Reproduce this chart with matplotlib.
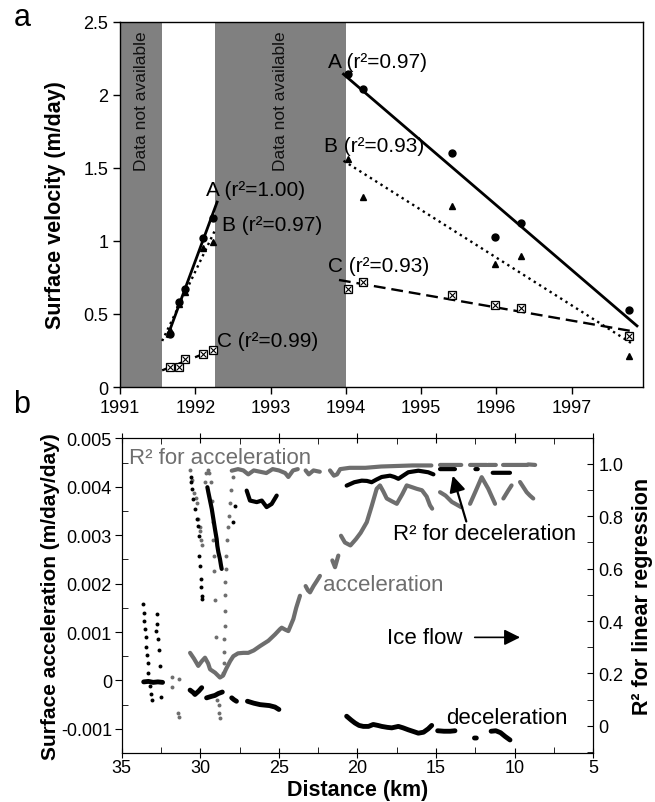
import numpy as np
import matplotlib
matplotlib.use("Agg")
import matplotlib.pyplot as plt
from matplotlib.ticker import MultipleLocator, FixedLocator, FuncFormatter

plt.rcParams['font.family'] = ['Liberation Sans', 'DejaVu Sans']
plt.rcParams['axes.unicode_minus'] = False

nan = np.nan

# ---------------- panel a: surface velocity (m/day) ----------------
yr_early = [1991.66, 1991.78, 1991.86, 1992.10, 1992.23]
velA_early = [0.36, 0.58, 0.67, 1.02, 1.16]
velB_early = [0.39, 0.57, 0.65, 0.95, 0.99]
velC_early = [0.14, 0.14, 0.19, 0.225, 0.25]

yr_late = [1994.03, 1994.23, 1995.41, 1995.98, 1996.33, 1997.77]
velA_late = [2.14, 2.04, 1.60, 1.03, 1.12, 0.53]
velB_late = [1.56, 1.30, 1.24, 0.84, 0.90, 0.21]
velC_late = [0.67, 0.72, 0.63, 0.56, 0.54, 0.35]

gap_periods = [(1991.0, 1991.56), (1992.26, 1994.0)]
r2_early = ['1.00', '0.97', '0.99']
r2_late = ['0.97', '0.93', '0.93']
years = [1991, 1992, 1993, 1994, 1995, 1996, 1997]

# ---------------- panel b: acceleration vs distance ----------------
# acceleration in 0.001 m/day/day (gray line), nan = gap
acc_km = [30.65, 30.4, 30.13, 29.9, 29.7, 29.5, 29.38, 29.06, 28.75, 28.55, 28.37, 28.1,
          27.9, 27.6, 27.26, 26.95, 26.6, 26.2, 25.67, 25.25, 24.93, 24.82, 24.6, 24.4,
          24.08, 23.9, 23.66, nan,
          23.3, 23.15, 23.02, 22.8, 22.6, 22.39, nan,
          21.6, 21.43, 21.22, nan,
          21.05, 20.8, 20.45, 20.1, 19.8, 19.41, 19.1, 18.78, 18.57, 18.35, 18.14, 17.8,
          17.5, 17.15, 16.87, 16.5, 16.23, 15.9, 15.6, 15.39, 15.25, nan,
          14.75, 14.4, 14.0, 13.4, nan,
          12.84, 12.5, 12.1, 11.68, 11.25, nan,
          10.72, 10.4, 10.2, nan,
          9.66, 9.24, 9.03, 8.82]
acc_val = [0.57, 0.45, 0.30, 0.40, 0.47, 0.35, 0.23, 0.16, 0.06, 0.10, 0.23, 0.40,
           0.50, 0.56, 0.57, 0.57, 0.62, 0.71, 0.82, 0.95, 1.06, 1.09, 1.05, 1.02,
           1.27, 1.50, 1.75, nan,
           1.95, 1.86, 1.82, 1.95, 2.05, 2.16, nan,
           2.48, 2.34, 2.58, nan,
           2.99, 2.85, 2.79, 2.92, 3.05, 3.27, 3.60, 3.96, 4.03, 3.90, 3.76, 3.70,
           3.65, 3.85, 4.03, 3.99, 3.96, 3.93, 3.80, 3.62, 3.55, nan,
           3.89, 3.82, 3.69, 3.58, nan,
           3.65, 3.90, 4.20, 3.96, 3.65, nan,
           3.76, 3.93, 4.03, nan,
           4.10, 3.89, 3.82, 3.76]

# deceleration in 0.001 m/day/day (black line)
dec_km = [33.6, 33.3, 33.0, 32.7, 32.4, nan,
          30.65, 30.45, 30.34, 30.1, 29.91, nan,
          29.6, 29.3, 29.07, 28.85, 28.6, nan,
          28.0, 27.85, 27.7, nan,
          27.0, 26.6, 26.2, 25.9, 25.6, 25.25, 25.0, nan,
          20.69, 20.4, 20.16, 19.9, 19.63, 19.3, 19.0, 18.7, 18.46, 18.1, 17.82, 17.4,
          17.1, 16.77, 16.4, 16.13, 15.8, 15.5, 15.28, nan,
          14.9, 14.5, 14.1, 13.8, nan,
          12.56, 12.44, nan,
          11.5, 11.2, 10.9, 10.6, 10.3]
dec_val = [-0.03, -0.02, -0.04, -0.03, -0.04, nan,
           -0.20, -0.25, -0.29, -0.22, -0.15, nan,
           -0.36, -0.33, -0.31, -0.27, -0.24, nan,
           -0.36, -0.40, -0.43, nan,
           -0.43, -0.47, -0.50, -0.51, -0.52, -0.55, -0.60, nan,
           -0.74, -0.82, -0.88, -0.93, -0.95, -0.95, -0.91, -0.93, -0.95, -0.97, -0.98, -0.95,
           -0.98, -1.02, -1.06, -1.09, -1.07, -1.00, -0.93, nan,
           -1.04, -1.05, -1.05, -1.04, nan,
           -1.19, -1.19, nan,
           -1.05, -1.04, -1.08, -1.16, -1.23]

# R2 for acceleration (gray): continuous parts and scattered dots
r2acc_line_km = [28.0, 27.6, 27.26, 26.95, 26.6, 26.2, 25.8, 25.4, 25.0, 24.6, 24.4, 24.1, 23.8, nan,
                 23.3, 23.1, 22.8, 22.4, nan,
                 21.75, 21.5, 21.3, 21.1, 20.5, 19.5, 18.5, 17.5, 16.5, 15.3, nan,
                 14.75, 13.4, nan, 12.84, 11.78, nan, 11.7, 11.2, nan, 10.74, 9.22, nan, 9.15, 8.7]
r2acc_line_val = [0.974, 0.98, 0.975, 0.96, 0.975, 0.97, 0.965, 0.98, 0.975, 0.965, 0.95, 0.975, 0.98, nan,
                  0.975, 0.96, 0.975, 0.97, nan,
                  0.975, 0.955, 0.96, 0.98, 0.985, 0.985, 0.99, 0.992, 0.994, 0.994, nan,
                  0.996, 0.996, nan, 0.996, 0.996, nan, 0.996, 0.996, nan, 0.996, 0.996, nan, 0.998, 0.996]
r2acc_dot_km = [30.65, 30.55, 30.4, 30.3, 30.23, 30.12, 30.05, 30.02, 29.98, 29.92,
                29.72, 29.62, 29.52, 29.42, 29.33, 29.27, 29.22, 29.17, 29.13, 29.1, 29.07, 29.03,
                28.55, 28.52, 28.49, 28.47, 28.45, 28.43, 28.42, 28.4, 28.37, 28.34, 28.3, 28.25,
                28.2, 28.12, 28.04, 27.95,
                31.82, 31.34, 31.8, 31.4, 31.38, 28.96, 28.8, 28.78, 28.75]
r2acc_dot_val = [0.975, 0.94, 0.89, 0.87, 0.85, 0.79, 0.76, 0.745, 0.71, 0.69,
                 0.93, 0.965, 0.975, 0.965, 0.93, 0.86, 0.78, 0.71, 0.65, 0.59, 0.48, 0.34,
                 0.20, 0.24, 0.28, 0.33, 0.38, 0.44, 0.50, 0.55, 0.60, 0.65, 0.71, 0.76,
                 0.80, 0.85, 0.90, 0.95,
                 0.185, 0.18, 0.147, 0.05, 0.035, 0.10, 0.08, 0.05, 0.03]

# R2 for deceleration (black)
r2dec_line_km = [29.55, 29.49, 29.27, 29.17, 29.07, 28.96, 28.92, 28.85, 28.75, 28.68, 28.64, nan,
                 27.05, 26.84, 26.41, 26.09, 25.78, 25.46, 25.14, nan,
                 20.69, 20.2, 19.73, 19.4, 19.1, 18.8, 18.46, 17.93, 17.65, 17.4, 17.1, 16.77,
                 16.13, 15.5, 15.17, nan,
                 14.75, 13.8, nan, 12.5, 12.35, nan, 11.4, 10.3]
r2dec_line_val = [0.911, 0.892, 0.828, 0.79, 0.752, 0.713, 0.688, 0.663, 0.637, 0.611, 0.599, nan,
                  0.898, 0.860, 0.854, 0.860, 0.835, 0.847, 0.879, nan,
                  0.917, 0.93, 0.936, 0.935, 0.93, 0.94, 0.95, 0.955, 0.95, 0.943, 0.955, 0.968,
                  0.974, 0.968, 0.96, nan,
                  0.98, 0.98, nan, 0.98, 0.98, nan, 0.966, 0.966]
r2dec_dot_km = [33.63, 33.6, 33.56, 33.52, 33.48, 33.44, 33.40, 33.35, 33.3, 33.22, 33.12, 33.05,
                32.77, 32.75, 32.8, 32.7, 32.62, 32.55, 32.52,
                30.61, 30.57, 30.53, 30.44, 30.34, 30.23, 30.13, 30.08, 30.06, 30.02, 29.98,
                29.94, 29.91, 29.89, 27.9, 27.79]
r2dec_dot_val = [0.465, 0.43, 0.40, 0.37, 0.34, 0.30, 0.27, 0.24, 0.20, 0.15, 0.12, 0.10,
                 0.427, 0.39, 0.36, 0.33, 0.29, 0.23, 0.11,
                 0.949, 0.930, 0.904, 0.866, 0.828, 0.790, 0.764, 0.726, 0.650, 0.611, 0.561,
                 0.529, 0.497, 0.484, 0.78, 0.84]

gray = '#6e6e6e'

fig = plt.figure(figsize=(6.55, 8.03), dpi=100)

# ---------------- panel a ----------------
ax = fig.add_axes([0.1832, 0.5168, 0.7985, 0.4549])
for x0, x1 in gap_periods:
    ax.axvspan(x0, x1, color='#808080', lw=0, zorder=0)
    ax.text((x0 + x1) / 2, 2.44, 'Data not available', rotation=90, ha='center',
            va='top', fontsize=12.5, color='#111111')

styles = ['-', ':', (0, (5, 2.5))]
fits_early = [(1991.63, 1992.29), (1991.56, 1992.27), (1991.56, 1992.25)]
fits_late = [(1993.97, 1997.87), (1993.97, 1997.82), (1993.91, 1997.83)]
early = [velA_early, velB_early, velC_early]
late = [velA_late, velB_late, velC_late]
for i in range(3):
    for xs, ys, (xa, xb) in [(yr_early, early[i], fits_early[i]), (yr_late, late[i], fits_late[i])]:
        k, b = np.polyfit(xs, ys, 1)
        xx = np.array([xa, xb])
        ax.plot(xx, k * xx + b, color='black', ls=styles[i], lw=2 if i == 0 else 1.7, zorder=2)

for xs, A, B, C in [(yr_early, velA_early, velB_early, velC_early),
                    (yr_late, velA_late, velB_late, velC_late)]:
    ax.plot(xs, A, 'o', color='black', ms=5, zorder=3)
    ax.plot(xs, B, '^', color='black', ms=5, zorder=3)
    ax.plot(xs, C, 's', mfc='white', mec='black', mew=0.9, ms=6, zorder=3)
    ax.plot(xs, C, 'x', color='black', mew=0.8, ms=4, zorder=4)

names = ['A', 'B', 'C']
pos_early = [(1992.14, 1.355), (1992.36, 1.115), (1992.29, 0.317)]
pos_late = [(1993.76, 2.23), (1993.71, 1.65), (1993.76, 0.83)]
for i in range(3):
    ax.text(*pos_early[i], f'{names[i]} (r²={r2_early[i]})', fontsize=15, va='center', ha='left')
    ax.text(*pos_late[i], f'{names[i]} (r²={r2_late[i]})', fontsize=15, va='center', ha='left')

ax.set_xlim(1991, 1997.95)
ax.set_ylim(0, 2.5)
ax.set_xticks(years)
ax.set_yticks([0, 0.5, 1, 1.5, 2, 2.5])
ax.yaxis.set_major_formatter(FuncFormatter(lambda v, p: f'{v:g}'))
ax.tick_params(direction='out', length=5, width=1, labelsize=13)
ax.set_ylabel('Surface velocity (m/day)', fontsize=15.5, fontweight='bold')
ax.yaxis.set_label_coords(-0.103, 0.5)
for s in ax.spines.values():
    s.set_linewidth(1)

# ---------------- panel b ----------------
axb = fig.add_axes([0.1858, 0.0610, 0.7200, 0.3917])
axb.plot(acc_km, np.array(acc_val) * 1e-3, color=gray, lw=3, solid_capstyle='round', zorder=3)
axb.plot(dec_km, np.array(dec_val) * 1e-3, color='black', lw=3.5, solid_capstyle='round', zorder=3)
axb.set_xlim(35, 5)
axb.set_ylim(-0.0015, 0.005)
axb.set_xticks([35, 30, 25, 20, 15, 10, 5])
axb.xaxis.set_minor_locator(MultipleLocator(2.5))
axb.yaxis.set_major_locator(MultipleLocator(0.001))
axb.yaxis.set_minor_locator(MultipleLocator(0.0005))
axb.yaxis.set_major_formatter(FuncFormatter(lambda v, p: '0' if abs(v) < 1e-9 else f'{v:.3f}'))
axb.tick_params(axis='x', which='major', direction='inout', length=7, labelsize=13, pad=1, top=True)
axb.tick_params(axis='x', which='minor', direction='in', length=4, top=True)
axb.tick_params(axis='y', which='major', direction='out', length=5, labelsize=13, pad=2)
axb.tick_params(axis='y', which='minor', direction='in', length=4)
axb.set_xlabel('Distance (km)', fontsize=15.5, fontweight='bold')
axb.xaxis.set_label_coords(0.5, -0.082)
axb.set_ylabel('Surface acceleration (m/day/day)', fontsize=15, fontweight='bold')
axb.yaxis.set_label_coords(-0.13, 0.5)

axr = axb.twinx()
axr.plot(r2acc_line_km, r2acc_line_val, color=gray, lw=3, solid_capstyle='round', zorder=3)
axr.scatter(r2acc_dot_km, r2acc_dot_val, s=8, color=gray, lw=0, zorder=3)
axr.plot(r2dec_line_km, r2dec_line_val, color='black', lw=3, solid_capstyle='round', zorder=4)
axr.scatter(r2dec_dot_km, r2dec_dot_val, s=8, color='black', lw=0, zorder=4)
axr.set_ylim(-0.104, 1.097)
axr.yaxis.set_major_locator(FixedLocator([0, 0.2, 0.4, 0.6, 0.8, 1.0]))
axr.yaxis.set_minor_locator(MultipleLocator(0.1))
axr.yaxis.set_major_formatter(FuncFormatter(lambda v, p: '0' if abs(v) < 1e-9 else f'{v:.1f}'))
axr.tick_params(axis='y', which='both', direction='in', length=4, labelsize=13)
axr.set_ylabel('R² for linear regression', fontsize=15.5, fontweight='bold')
axr.yaxis.set_label_coords(1.082, 0.5)

axb.text(34.53, 0.0046, 'R² for acceleration', color=gray, fontsize=16, va='center', ha='left')
axb.text(22.19, 0.00199, 'acceleration', color=gray, fontsize=16, va='center', ha='left')
axb.text(17.74, 0.00303, 'R² for deceleration', color='black', fontsize=16, va='center', ha='left')
axb.text(14.37, -0.00077, 'deceleration', color='black', fontsize=16, va='center', ha='left')
axb.text(18.12, 0.00089, 'Ice flow', color='black', fontsize=16, va='center', ha='left')
axb.annotate('', xy=(9.48, 0.00089), xytext=(12.72, 0.00089),
             arrowprops=dict(arrowstyle='-|>', lw=1.2, color='black', mutation_scale=24))
axr.annotate('', xy=(13.99, 0.965), xytext=(13.03, 0.77),
             arrowprops=dict(arrowstyle='-|>', lw=1.6, color='black', mutation_scale=24))

fig.text(22 / 655, 1 - 18 / 803, 'a', fontsize=22, ha='center', va='center')
fig.text(22 / 655, 1 - 405 / 803, 'b', fontsize=22, ha='center', va='center')

fig.savefig('out.png', dpi=100)
